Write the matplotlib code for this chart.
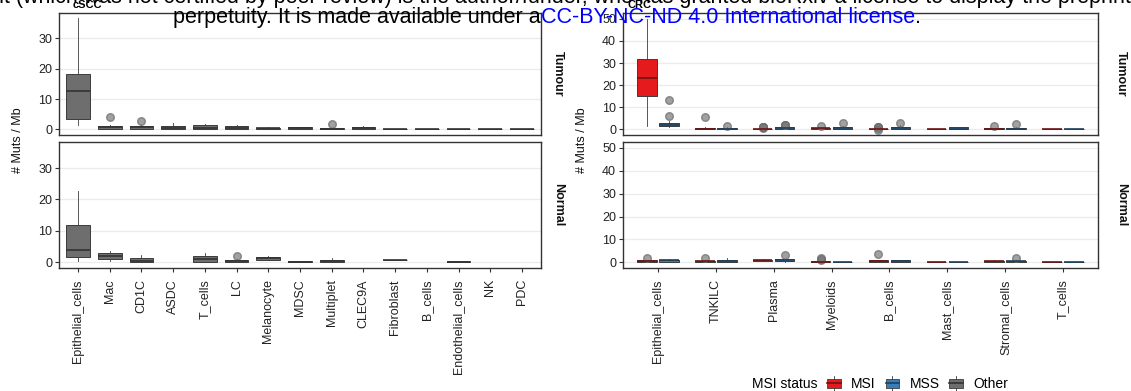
import matplotlib
matplotlib.use("Agg")
import matplotlib.pyplot as plt
from matplotlib.patches import Rectangle, Patch
from matplotlib.lines import Line2D
from matplotlib.legend_handler import HandlerBase

plt.rcParams['font.family'] = ['Liberation Sans', 'DejaVu Sans']

# ---------------- data ----------------
cscc_cells = ["Epithelial_cells", "Mac", "CD1C", "ASDC", "T_cells", "LC", "Melanocyte",
              "MDSC", "Multiplet", "CLEC9A", "Fibroblast", "B_cells", "Endothelial_cells",
              "NK", "PDC"]
# (whislo, q1, med, q3, whishi)
cscc_tumour = [(1.5, 3.5, 12.5, 18.2, 36.5), (0, 0.3, 0.8, 1.2, 1.5), (0, 0.3, 0.7, 1.1, 1.3),
               (0, 0.1, 0.6, 1.2, 2.0), (0, 0.1, 0.6, 1.3, 1.8), (0, 0.2, 0.6, 1.0, 1.5),
               (0.2, 0.3, 0.5, 0.6, 0.7), (0.1, 0.2, 0.5, 0.7, 0.9), (0, 0.0, 0.2, 0.4, 0.6),
               (0, 0.0, 0.4, 0.8, 1.0), (0.1, 0.1, 0.2, 0.3, 0.3), (0, 0, 0, 0.05, 0.05),
               (0, 0, 0, 0.05, 0.05), (0, 0, 0, 0.05, 0.05), (0, 0, 0, 0.05, 0.05)]
cscc_tumour_fliers = [[], [4.0], [2.8], [], [], [], [], [], [1.8], [], [], [], [], [], []]
cscc_normal = [(0.3, 1.8, 3.8, 12.0, 22.8), (0.3, 1.0, 2.0, 3.0, 3.5), (0, 0.0, 0.5, 1.5, 2.3),
               None, (0, 0.1, 1.0, 2.0, 3.0), (0, 0.1, 0.4, 0.8, 1.0), (0.6, 0.8, 1.3, 1.7, 2.0),
               (0.1, 0.1, 0.2, 0.3, 0.3), (0, 0.0, 0.3, 0.8, 1.3), None, (0.6, 0.6, 0.7, 0.8, 0.8),
               None, (0.1, 0.1, 0.2, 0.3, 0.3), None, None]
cscc_normal_fliers = [[], [], [], [], [], [2.0], [], [], [], [], [], [], [], [], []]

crc_cells = ["Epithelial_cells", "TNKILC", "Plasma", "Myeloids", "B_cells", "Mast_cells",
             "Stromal_cells", "T_cells"]
crc_tumour_msi = [(1.5, 15.0, 23.3, 31.8, 50.0), (0, 0.2, 0.4, 0.6, 1.0), (0, 0.0, 0.1, 0.3, 0.5),
                  (0, 0.2, 0.5, 0.7, 1.0), (0, 0.0, 0.2, 0.4, 0.6), (0, 0, 0, 0.05, 0.05),
                  (0, 0.1, 0.3, 0.5, 0.7), (0, 0, 0, 0.05, 0.05)]
crc_tumour_msi_fliers = [[], [5.7], [0.8, 0.9, 1.0, 1.1, 1.2], [1.7], [0.8, 1.0, 1.2, 1.0, -0.3],
                         [], [1.5], []]
crc_tumour_mss = [(1.0, 1.5, 2.0, 3.0, 4.0), (0, 0.1, 0.4, 0.8, 1.2), (0.2, 0.4, 0.7, 1.0, 1.5),
                  (0, 0.2, 0.6, 1.0, 1.5), (0, 0.2, 0.6, 1.2, 1.8), (0, 0.1, 0.4, 0.9, 1.3),
                  (0, 0.2, 0.4, 0.7, 1.0), (0, 0, 0, 0.05, 0.05)]
crc_tumour_mss_fliers = [[6.0, 13.5], [1.6], [1.8, 2.0, 2.1], [3.0], [2.8], [], [2.3], []]
crc_normal_msi = [(0, 0.2, 0.5, 0.8, 1.0), (0, 0.1, 0.4, 0.7, 1.0), (0.5, 0.7, 1.0, 1.2, 1.5),
                  (0, 0.0, 0.2, 0.4, 0.6), (0, 0.2, 0.5, 0.8, 1.2), (0, 0, 0, 0.05, 0.05),
                  (0.1, 0.3, 0.5, 0.7, 0.9), (0, 0, 0, 0.05, 0.05)]
crc_normal_msi_fliers = [[2.0], [1.7], [], [0.8, 1.3, 1.8], [3.8], [], [], []]
crc_normal_mss = [(0.1, 0.3, 0.8, 1.2, 1.5), (0, 0.2, 0.6, 1.0, 1.8), (0.3, 0.6, 1.0, 1.3, 1.6),
                  (0, 0, 0.05, 0.1, 0.1), (0.1, 0.3, 0.6, 0.9, 1.2), (0, 0, 0, 0.05, 0.05),
                  (0, 0.2, 0.4, 0.7, 0.9), (0, 0, 0, 0.05, 0.05)]
crc_normal_mss_fliers = [[], [], [3.3], [], [], [], [1.8], []]

cscc_yticks = [0, 10, 20, 30]
crc_yticks = [0, 10, 20, 30, 40, 50]
legend_labels = ["MSI", "MSS", "Other"]

# ---------------- style ----------------
FILL = {"MSI": "#E41A1C", "MSS": "#377EB8", "Other": "#6E6E6E"}
MED = {"MSI": "#6e1212", "MSS": "#1d3f5e", "Other": "#333333"}
EDGE = "#3c3c3c"

W, H = 1131, 391
fig = plt.figure(figsize=(W / 100, H / 100), dpi=100)


def rect(x0, x1, y0, y1):
    return [x0 / W, 1 - y1 / H, (x1 - x0) / W, (y1 - y0) / H]


def draw_boxes(ax, stats, fliers, positions, width, status):
    items, pos = [], []
    for s, f, p in zip(stats, fliers, positions):
        if s is None:
            continue
        lo, q1, med, q3, hi = s
        items.append(dict(whislo=lo, q1=q1, med=med, q3=q3, whishi=hi, fliers=f))
        pos.append(p)
    ax.bxp(items, positions=pos, widths=width, patch_artist=True, showcaps=False,
           boxprops=dict(facecolor=FILL[status], edgecolor=EDGE, linewidth=0.7),
           whiskerprops=dict(color=EDGE, linewidth=0.6),
           medianprops=dict(color=MED[status], linewidth=1.2),
           flierprops=dict(marker='o', markersize=5.5, markerfacecolor='#7a7a7a',
                           markeredgecolor='#6a6a6a', alpha=0.7, linestyle='none'),
           manage_ticks=False, zorder=3)


def style(ax, yticks, ylim, n, labels=None):
    ax.set_ylim(*ylim)
    ax.set_xlim(0.4, n + 0.6)
    ax.set_yticks(yticks)
    ax.yaxis.grid(True, color='#ebebeb', linewidth=0.9, zorder=0)
    ax.set_axisbelow(True)
    for sp in ax.spines.values():
        sp.set_color('#333333')
        sp.set_linewidth(1.0)
    ax.tick_params(axis='y', length=3, color='#333333', labelsize=9, labelcolor='#222222', pad=2)
    if labels is None:
        ax.set_xticks([])
    else:
        ax.set_xticks(range(1, n + 1))
        ax.set_xticklabels(labels, rotation=90, fontsize=9, color='#222222')
        ax.tick_params(axis='x', length=3, color='#333333', pad=5)


n1 = len(cscc_cells)
n2 = len(crc_cells)
pos1 = list(range(1, n1 + 1))
pos2 = list(range(1, n2 + 1))
ylim1 = (-1.83, 38.3)
ylim2 = (-2.5, 52.6)

ax1 = fig.add_axes(rect(59, 541, 13, 135))
draw_boxes(ax1, cscc_tumour, cscc_tumour_fliers, pos1, 0.75, "Other")
style(ax1, cscc_yticks, ylim1, n1)
ax2 = fig.add_axes(rect(59, 541, 142, 268))
draw_boxes(ax2, cscc_normal, cscc_normal_fliers, pos1, 0.75, "Other")
style(ax2, cscc_yticks, ylim1, n1, cscc_cells)

ax3 = fig.add_axes(rect(623, 1098, 13, 135))
draw_boxes(ax3, crc_tumour_msi, crc_tumour_msi_fliers, [p - 0.19 for p in pos2], 0.34, "MSI")
draw_boxes(ax3, crc_tumour_mss, crc_tumour_mss_fliers, [p + 0.19 for p in pos2], 0.34, "MSS")
style(ax3, crc_yticks, ylim2, n2)
ax4 = fig.add_axes(rect(623, 1098, 142, 268))
draw_boxes(ax4, crc_normal_msi, crc_normal_msi_fliers, [p - 0.19 for p in pos2], 0.34, "MSI")
draw_boxes(ax4, crc_normal_mss, crc_normal_mss_fliers, [p + 0.19 for p in pos2], 0.34, "MSS")
style(ax4, crc_yticks, ylim2, n2, crc_cells)

# axis labels / strips
for x in (18, 582):
    fig.text(x / W, 1 - 140 / H, "# Muts / Mb", rotation=90, ha='center', va='center',
             fontsize=9, color='#111111')
for x in (558, 1121):
    fig.text(x / W, 1 - 74 / H, "Tumour", rotation=-90, ha='center', va='center',
             fontsize=9, fontweight='bold', color='#111111')
    fig.text(x / W, 1 - 205 / H, "Normal", rotation=-90, ha='center', va='center',
             fontsize=9, fontweight='bold', color='#111111')
fig.text(73 / W, 1 - 5 / H, "cSCC", ha='left', va='center', fontsize=8, fontweight='bold')
fig.text(627 / W, 1 - 5 / H, "CRC", ha='left', va='center', fontsize=8, fontweight='bold')


# legend
class BoxHandler(HandlerBase):
    def create_artists(self, legend, orig_handle, xdescent, ydescent, width, height,
                       fontsize, trans):
        lab = orig_handle.get_label()
        x0, y0 = -xdescent, -ydescent
        cx = x0 + width / 2
        arts = [Line2D([cx, cx], [y0 - 0.15 * height, y0 + 1.15 * height], color=EDGE,
                       linewidth=0.6, transform=trans),
                Rectangle((x0, y0 + 0.1 * height), width, 0.8 * height, facecolor=FILL[lab],
                          edgecolor=EDGE, linewidth=0.6, transform=trans),
                Line2D([x0, x0 + width], [y0 + 0.5 * height] * 2, color=MED[lab],
                       linewidth=1.2, transform=trans)]
        return arts


handles = [Patch(label=l) for l in legend_labels]
fig.text(752 / W, 1 - 384 / H, "MSI status", ha='left', va='center', fontsize=10)
fig.legend(handles=handles, labels=legend_labels, handler_map={Patch: BoxHandler()},
           loc='center left', bbox_to_anchor=(827 / W, 1 - 384 / H), ncol=3, frameon=False,
           fontsize=10, handlelength=1.0, handleheight=0.9, handletextpad=0.72,
           columnspacing=0.72, borderpad=0, borderaxespad=0)

# preprint watermark
fig.text(-8 / W, 1 - 3 / H,
         "nt (which was not certified by peer review) is the author/funder, who has granted bioRxiv a license to display the preprint in",
         ha='left', va='baseline', fontsize=15.5, color='black', zorder=10)
renderer = fig.canvas.get_renderer()
t1 = fig.text(541 / W, 1 - 23 / H, "perpetuity. It is made available under a", ha='right',
              va='baseline', fontsize=15.5, color='black', zorder=10)
t2 = fig.text(541 / W, 1 - 23 / H, "CC-BY-NC-ND 4.0 International license", ha='left',
              va='baseline', fontsize=15.5, color='blue', zorder=10)
bb = t2.get_window_extent(renderer)
fig.text(bb.x1 / W, 1 - 23 / H, ".", ha='left', va='baseline', fontsize=15.5, color='black',
         zorder=10)

fig.savefig("out.png", dpi=100)
